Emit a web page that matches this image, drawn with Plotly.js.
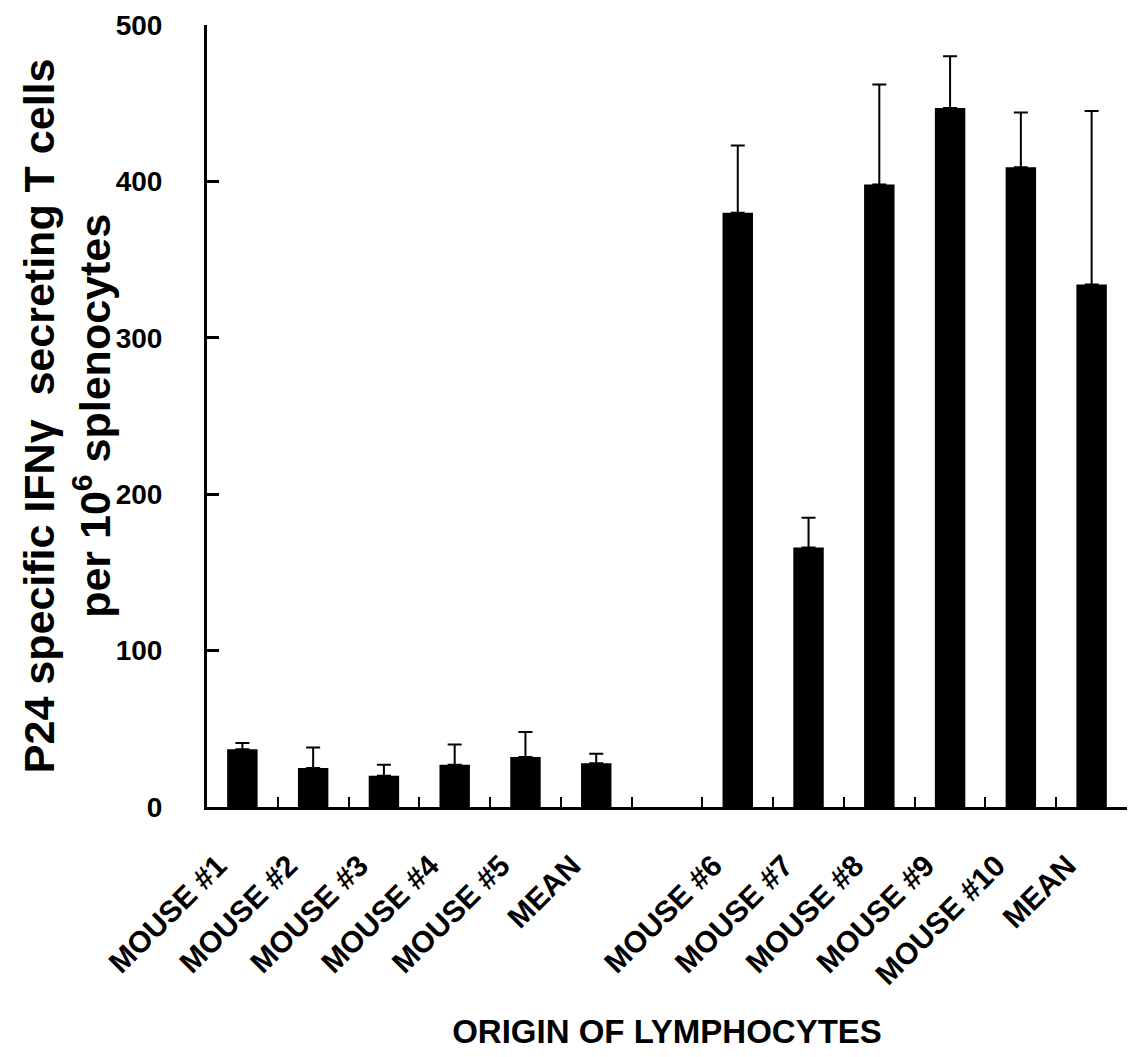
<!DOCTYPE html>
<html>
<head>
<meta charset="utf-8">
<script src="https://cdn.plot.ly/plotly-3.0.1.min.js"></script>
<style>html,body{margin:0;padding:0;background:#fff;}#chart{width:1136px;height:1057px;}</style>
</head>
<body>
<div id="chart"></div>
<script>
const categories = ['MOUSE #1','MOUSE #2','MOUSE #3','MOUSE #4','MOUSE #5','MEAN (1-5)','gap','MOUSE #6','MOUSE #7','MOUSE #8','MOUSE #9','MOUSE #10','MEAN (6-10)'];
const tickLabels = ['MOUSE #1','MOUSE #2','MOUSE #3','MOUSE #4','MOUSE #5','MEAN','','MOUSE #6','MOUSE #7','MOUSE #8','MOUSE #9','MOUSE #10','MEAN'];
const spotCounts = [37, 25, 20, 27, 32, 28, null, 380, 166, 398, 447, 409, 334];
const errorPlus = [4, 13, 7, 13, 16, 6, null, 43, 19, 64, 33, 35, 111];
const yTickVals = [0, 100, 200, 300, 400, 500];
const yTitle = '<b>P24 specific IFNγ  secreting T cells<br>per 10<sup>6</sup> splenocytes</b>';
const xTitle = '<b>ORIGIN OF LYMPHOCYTES</b>';

const font = 'Liberation Sans, Arial, sans-serif';
const slotIndex = categories.map((c, i) => i);
// ticks sit on the boundaries between slots; each label belongs to the slot right of its boundary
const boundaryVals = slotIndex.map(i => i - 0.5).concat([categories.length - 0.5]);
const boundaryText = tickLabels.concat(['']);

const trace = {
  type: 'bar',
  x: slotIndex,
  y: spotCounts,
  customdata: categories,
  width: 0.43,
  marker: {color: '#000000'},
  error_y: {
    type: 'data',
    symmetric: false,
    array: errorPlus,
    arrayminus: errorPlus.map(() => 0),
    color: '#000000',
    thickness: 2,
    width: 7
  },
  hovertemplate: '%{customdata}: %{y}<extra></extra>'
};

const layout = {
  width: 1136,
  height: 1057,
  margin: {l: 207, r: 9, t: 25, b: 250},
  showlegend: false,
  xaxis: {
    type: 'linear',
    range: [-0.5, categories.length - 0.5],
    tickmode: 'array',
    tickvals: boundaryVals,
    ticktext: boundaryText,
    ticks: 'inside',
    ticklen: 10,
    tickwidth: 2,
    tickcolor: '#000',
    tickangle: -45,
    ticklabelstandoff: 26,
    ticklabelshift: 11,
    tickfont: {family: font, size: 30, color: '#000', weight: 'bold'},
    showline: true,
    linecolor: '#000',
    linewidth: 3,
    showgrid: false,
    zeroline: false,
    title: {
      text: xTitle,
      font: {family: font, size: 33, color: '#000'},
      standoff: 30
    }
  },
  yaxis: {
    range: [0, 500],
    tickvals: yTickVals,
    ticks: 'inside',
    ticklen: 12,
    tickwidth: 3,
    tickcolor: '#000',
    ticklabelstandoff: 36,
    tickfont: {family: font, size: 28, color: '#000', weight: 'bold'},
    showline: true,
    linecolor: '#000',
    linewidth: 3,
    showgrid: false,
    zeroline: false
  },
  annotations: [{
    text: yTitle,
    textangle: -90,
    xref: 'paper',
    yref: 'paper',
    x: -0.152,
    y: 0.5,
    xanchor: 'center',
    yanchor: 'middle',
    showarrow: false,
    font: {family: font, size: 43, color: '#000'}
  }]
};

Plotly.newPlot('chart', [trace], layout, {displayModeBar: false});
</script>
</body>
</html>
